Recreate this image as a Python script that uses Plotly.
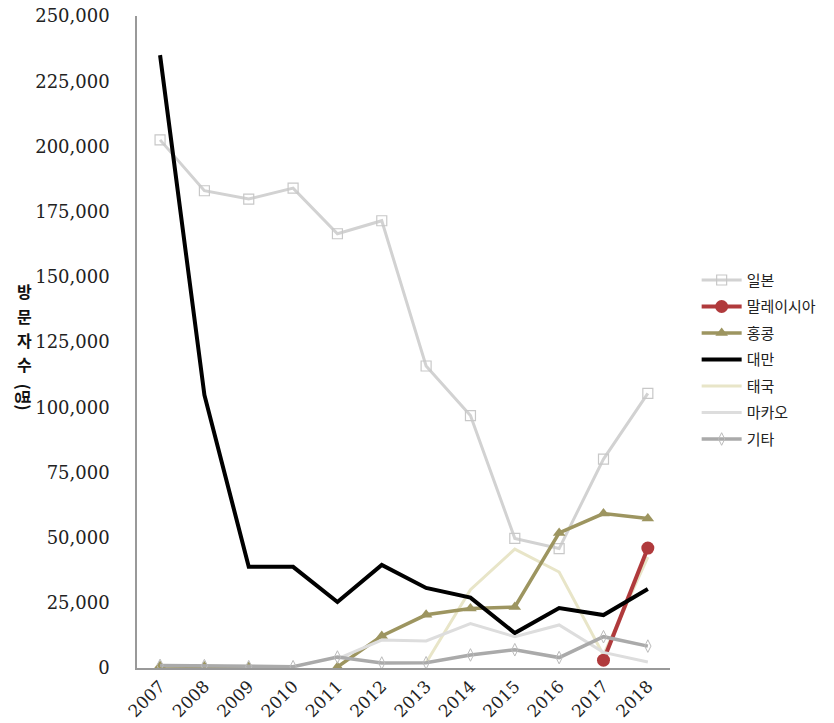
import plotly.graph_objects as go

years = ["2007", "2008", "2009", "2010", "2011", "2012", "2013", "2014", "2015", "2016", "2017", "2018"]

japan = [202500, 183000, 179800, 184000, 166500, 171500, 115800, 96800, 49700, 45800, 80100, 105300]
malaysia = [None, None, None, None, None, None, None, None, None, None, 3000, 46000]
hongkong = [800, 600, 400, None, 400, 12300, 20400, 22800, 23400, 51800, 59200, 57300]
taiwan = [235000, 104700, 38800, 38800, 25300, 39500, 30700, 27000, 13400, 23000, 20300, 30300]
thailand = [None, None, None, None, None, None, 2000, 30000, 45600, 36800, 5000, 42500]
macau = [None, None, None, None, 3500, 10700, 10400, 17000, 12000, 16500, 6000, 2300]
others = [1000, 900, 500, 500, 4200, 1900, 2000, 5000, 7000, 4000, 12000, 8400]

y_ticks = [0, 25000, 50000, 75000, 100000, 125000, 150000, 175000, 200000, 225000, 250000]
y_title_chars = ["방", "문", "자", "수"]

SERIF = "DejaVu Serif, Liberation Serif, serif"
KR = "Noto Sans CJK KR"

fig = go.Figure()

fig.add_trace(go.Scatter(
    x=years, y=japan, name="일본", mode="lines+markers", legendgroup="a",
    line=dict(color="#d2d2d2", width=3),
    marker=dict(symbol="square-open", size=10, color="#c8c8c8", line=dict(width=1.2)),
))
fig.add_trace(go.Scatter(
    x=years, y=thailand, name="태국", mode="lines", legendgroup="e",
    line=dict(color="#e8e5c8", width=3), showlegend=False,
))
fig.add_trace(go.Scatter(
    x=years, y=malaysia, name="말레이시아", mode="lines+markers", legendgroup="b",
    line=dict(color="#b03a3c", width=4),
    marker=dict(symbol="circle", size=13, color="#b03a3c"),
))
fig.add_trace(go.Scatter(
    x=years, y=hongkong, name="홍콩", mode="lines+markers", legendgroup="c",
    line=dict(color="#9d9560", width=3.5),
    marker=dict(symbol="triangle-up", size=11, color="#9d9560"),
))
fig.add_trace(go.Scatter(
    x=years, y=taiwan, name="대만", mode="lines", legendgroup="d",
    line=dict(color="#000000", width=4),
))
fig.add_trace(go.Scatter(
    x=years, y=[None] * len(years), name="태국", mode="lines", legendgroup="e2",
    line=dict(color="#e8e5c8", width=3),
))
fig.add_trace(go.Scatter(
    x=years, y=macau, name="마카오", mode="lines", legendgroup="f",
    line=dict(color="#dddddd", width=3),
))
fig.add_trace(go.Scatter(
    x=years, y=others, name="기타", mode="lines+markers", legendgroup="g",
    line=dict(color="#aaaaaa", width=3.5),
    marker=dict(symbol="diamond-tall-open", size=9, color="#bbbbbb", line=dict(width=1)),
))

fig.update_layout(
    width=826, height=715,
    margin=dict(l=129, r=164, t=8, b=55),
    plot_bgcolor="white", paper_bgcolor="white",
    font=dict(family=SERIF, color="#222222"),
    showlegend=True,
    legend=dict(
        x=1.05, y=0.62, xanchor="left", yanchor="top",
        font=dict(family=KR, size=15, color="#222222"),
        tracegroupgap=4, itemwidth=40,
        bgcolor="rgba(0,0,0,0)",
    ),
    xaxis=dict(
        type="category", range=[-0.52, 11.5], automargin=False,
        showline=True, linecolor="#999999", linewidth=1.5,
        showgrid=False, zeroline=False, ticks="",
        ticklabeloverflow="allow",
        tickangle=-45, tickfont=dict(family=SERIF, size=17, color="#222222"),
    ),
    yaxis=dict(
        range=[0, 250000], tickvals=y_ticks, automargin=False,
        tickformat=",d",
        showline=True, linecolor="#999999", linewidth=1.5,
        showgrid=False, zeroline=False, ticks="",
        ticklabelstandoff=22, ticklabeloverflow="allow",
        tickfont=dict(family=SERIF, size=18, color="#222222"),
    ),
)

for i, ch in enumerate(y_title_chars):
    fig.add_annotation(
        xref="paper", yref="paper", x=-0.212, y=0.578 - i * 0.0375,
        xanchor="center", yanchor="middle",
        text="<b>" + ch + "</b>", showarrow=False,
        font=dict(family=KR, size=16, color="#111111"),
    )
fig.add_annotation(
    xref="paper", yref="paper", x=-0.212, y=0.578 - 4 * 0.0375 - 0.012,
    xanchor="center", yanchor="middle",
    text="<b>(명)</b>", showarrow=False, textangle=90,
    font=dict(family=KR, size=16, color="#111111"),
)

fig.write_html("out.html")
